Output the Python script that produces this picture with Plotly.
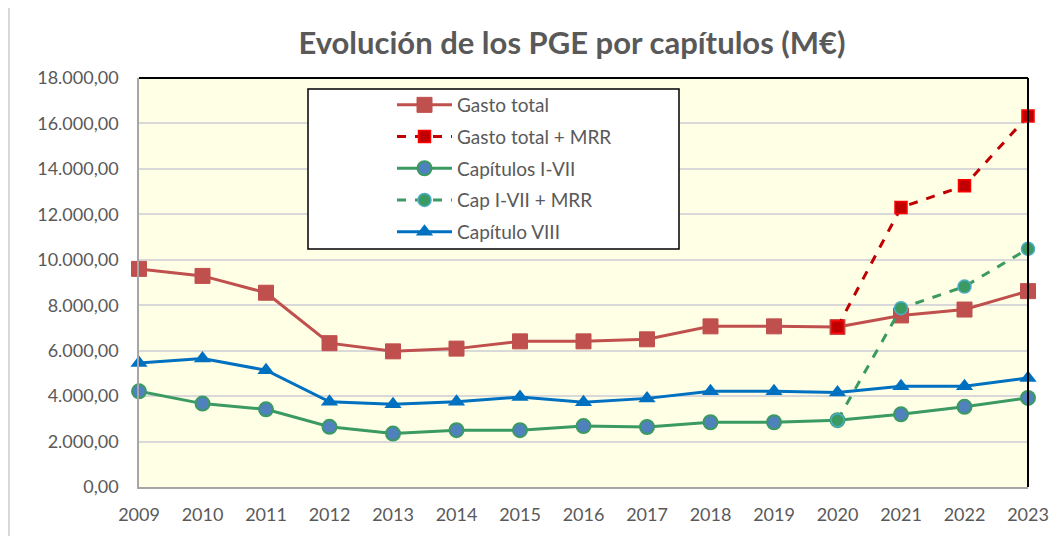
import plotly.graph_objects as go

years = list(range(2009, 2024))
gasto_total = [9600, 9290, 8550, 6330, 5970, 6090, 6410, 6410, 6500, 7070, 7070, 7040, 7550, 7810, 8620]
mrr_years = [2020, 2021, 2022, 2023]
gasto_total_mrr = [7040, 12300, 13260, 16330]
cap_i_vii = [4210, 3670, 3420, 2650, 2350, 2500, 2500, 2680, 2640, 2850, 2850, 2940, 3200, 3530, 3920]
cap_i_vii_mrr = [2940, 7870, 8820, 10480]
cap_viii = [5460, 5650, 5140, 3750, 3640, 3750, 3960, 3730, 3900, 4210, 4210, 4160, 4430, 4430, 4800]
y_ticks = list(range(0, 18001, 2000))

FONT = "Lato, Open Sans, sans-serif"
GRAY = "#595959"

fig = go.Figure()
fig.add_trace(go.Scatter(
    x=years, y=gasto_total, name="Gasto total", mode="lines+markers", legendgroup="a",
    line=dict(color="#C0504D", width=3),
    marker=dict(symbol="square", size=15, color="#C0504D", line=dict(color="#C0504D", width=1)),
    cliponaxis=False))
fig.add_trace(go.Scatter(
    x=mrr_years, y=gasto_total_mrr, name="Gasto total + MRR", mode="lines+markers", legendgroup="b",
    line=dict(color="#C00000", width=3, dash="dash"),
    marker=dict(symbol="square", size=12, color="#C00000", line=dict(color="#FF0000", width=1.5)),
    cliponaxis=False))
fig.add_trace(go.Scatter(
    x=years, y=cap_i_vii, name="Capítulos I-VII", mode="lines+markers", legendgroup="c",
    line=dict(color="#3A9A62", width=3),
    marker=dict(symbol="circle", size=14, color="#4F81BD", line=dict(color="#3A9A62", width=2)),
    cliponaxis=False))
fig.add_trace(go.Scatter(
    x=mrr_years, y=cap_i_vii_mrr, name="Cap I-VII + MRR", mode="lines+markers", legendgroup="d",
    line=dict(color="#3A9A62", width=3, dash="dash"),
    marker=dict(symbol="circle", size=13, color="#3A9A62", line=dict(color="#4BACC6", width=1.5)),
    cliponaxis=False))
fig.add_trace(go.Scatter(
    x=years, y=cap_viii, name="Capítulo VIII", mode="lines+markers", legendgroup="e",
    line=dict(color="#0070C0", width=3),
    marker=dict(symbol="triangle-up", size=15, color="#0070C0"),
    cliponaxis=False))

# The page body has an 8px margin: work in screen coordinates and convert.
OFF = 8
W, H = 1042, 528
L, R, T, B = 139 - OFF, W - (1028 - OFF), 78 - OFF, H - (487 - OFF)
pw = W - L - R
ph = H - T - B

def px(xs):
    return (xs - OFF - L) / pw

def py(ys):
    return (H - B - (ys - OFF)) / ph

shapes = [
    dict(type="rect", xref="paper", yref="paper", x0=px(308), x1=px(679), y0=py(249), y1=py(89),
         fillcolor="white", line=dict(color="black", width=1.5), layer="above"),
    dict(type="line", xref="paper", yref="paper", x0=0, x1=1, y0=1, y1=1, line=dict(color="black", width=2)),
    dict(type="line", xref="paper", yref="paper", x0=1, x1=1, y0=0, y1=1, line=dict(color="black", width=2)),
    dict(type="line", xref="paper", yref="paper", x0=px(9), x1=px(9), y0=py(560), y1=py(7),
         line=dict(color="#D9D9D9", width=2)),
]

fig.update_layout(
    width=W, height=H,
    margin=dict(l=L, r=R, t=T, b=B, pad=0),
    paper_bgcolor="white",
    plot_bgcolor="#FFFFE6",
    separators=",.",
    title=dict(text="<b>Evolución de los PGE por capítulos (M€)</b>", x=(572 - OFF) / W, xanchor="center",
               y=1 - (43 - OFF) / H, yanchor="middle", font=dict(family=FONT, size=31, color=GRAY)),
    font=dict(family=FONT, color=GRAY),
    xaxis=dict(range=[2009, 2023], tickmode="array", tickvals=years, ticktext=[str(y) for y in years],
               showgrid=False, zeroline=False, showline=True, linecolor="#A6A6A6", linewidth=1.5,
               ticks="", tickfont=dict(family=FONT, size=18, color=GRAY), ticklabelstandoff=11,
               automargin=False),
    yaxis=dict(range=[0, 18000], tickmode="array", tickvals=y_ticks, tickformat=",.2f",
               showgrid=True, gridcolor="#D9D9D9", gridwidth=1.5, zeroline=False,
               showline=True, linecolor="#A6A6A6", linewidth=1.5, ticks="",
               tickfont=dict(family=FONT, size=18, color=GRAY), ticklabelstandoff=15,
               automargin=False),
    legend=dict(x=px(392), y=py(86), xanchor="left", yanchor="top",
                bgcolor="rgba(0,0,0,0)", borderwidth=0, itemwidth=55,
                font=dict(family=FONT, size=19, color=GRAY), tracegroupgap=4),
    shapes=shapes,
    showlegend=True,
)

fig.write_html("out.html")
